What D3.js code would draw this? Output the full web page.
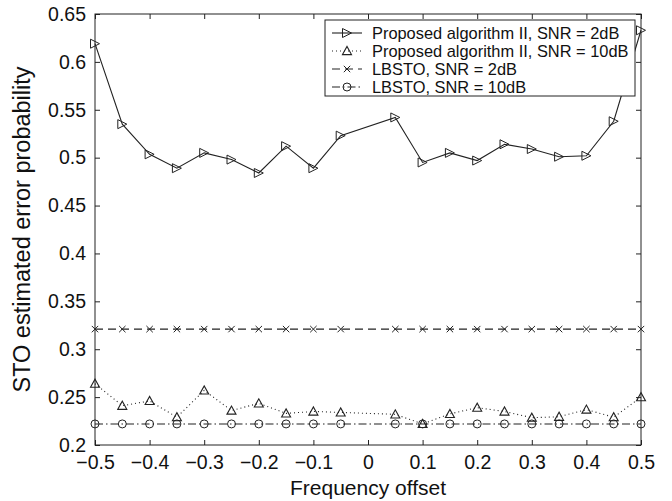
<!DOCTYPE html>
<html><head><meta charset="utf-8">
<script src="https://cdn.jsdelivr.net/npm/d3@7"></script>
<style>
html,body{margin:0;padding:0;background:#fff;}
svg{display:block;font-family:"Liberation Sans",Arial,Helvetica,sans-serif;}
</style></head>
<body>
<svg id="chart" width="672" height="501"></svg>
<script>
const freqOffset = [-0.5,-0.45,-0.4,-0.35,-0.3,-0.25,-0.2,-0.15,-0.1,-0.05,0.05,0.1,0.15,0.2,0.25,0.3,0.35,0.4,0.45,0.5];
const propSnr2  = [0.619,0.535,0.5035,0.489,0.505,0.498,0.484,0.512,0.489,0.523,0.542,0.495,0.505,0.497,0.514,0.509,0.501,0.502,0.538,0.633];
const propSnr10 = [0.264,0.241,0.246,0.229,0.257,0.236,0.2435,0.233,0.235,0.234,0.232,0.222,0.2325,0.239,0.235,0.2285,0.2295,0.237,0.229,0.25];
const lbstoSnr2  = [0.321,0.321,0.321,0.321,0.321,0.321,0.321,0.321,0.321,0.321,0.321,0.321,0.321,0.321,0.321,0.321,0.321,0.321,0.321,0.321];
const lbstoSnr10 = [0.222,0.222,0.222,0.222,0.222,0.222,0.222,0.222,0.222,0.222,0.222,0.222,0.222,0.222,0.222,0.222,0.222,0.222,0.222,0.222];
const xTicks = [-0.5,-0.4,-0.3,-0.2,-0.1,0,0.1,0.2,0.3,0.4,0.5];
const yTicks = [0.2,0.25,0.3,0.35,0.4,0.45,0.5,0.55,0.6,0.65];
const seriesNames = ["Proposed algorithm II, SNR = 2dB","Proposed algorithm II, SNR = 10dB","LBSTO, SNR = 2dB","LBSTO, SNR = 10dB"];

const L = 95, R = 641, T = 14, B = 445;
const svg = d3.select("#chart");
const x = d3.scaleLinear().domain([-0.5,0.5]).range([L,R]);
const y = d3.scaleLinear().domain([0.2,0.65]).range([B,T]);

const fmt = v => (v<0 ? "\u2212" : "") + d3.format("")(Math.abs(+v.toFixed(2)));

// axes with inward ticks on all four sides
const tickLen = 5;
const gx = svg.append("g").attr("transform",`translate(0,${B})`)
  .call(d3.axisBottom(x).tickValues(xTicks).tickSizeInner(-tickLen).tickSizeOuter(0).tickPadding(10).tickFormat(fmt));
const gxt = svg.append("g").attr("transform",`translate(0,${T})`)
  .call(d3.axisTop(x).tickValues(xTicks).tickSizeInner(-tickLen).tickSizeOuter(0).tickFormat(""));
const gy = svg.append("g").attr("transform",`translate(${L},0)`)
  .call(d3.axisLeft(y).tickValues(yTicks).tickSizeInner(-tickLen).tickSizeOuter(0).tickPadding(9).tickFormat(d=>fmt(d)));
const gyr = svg.append("g").attr("transform",`translate(${R},0)`)
  .call(d3.axisRight(y).tickValues(yTicks).tickSizeInner(-tickLen).tickSizeOuter(0).tickFormat(""));
[gx,gxt,gy,gyr].forEach(g=>{
  g.select(".domain").remove();
  g.selectAll("line").attr("stroke","#222").attr("stroke-width",1);
  g.selectAll("text").attr("fill","#111").style("font-size","19.5px").style("font-family","'Liberation Sans',Arial,sans-serif");
});
gx.selectAll("text").attr("dy","0.71em");
svg.append("rect").attr("x",L).attr("y",T).attr("width",R-L).attr("height",B-T)
  .attr("fill","none").attr("stroke","#222").attr("stroke-width",1);

// axis titles
svg.append("text").attr("x",(L+R)/2).attr("y",495).attr("text-anchor","middle")
  .style("font-size","21px").attr("fill","#111").text("Frequency offset");
svg.append("text").attr("transform",`translate(30,${(T+B)/2}) rotate(-90)`).attr("text-anchor","middle")
  .style("font-size","23.5px").attr("fill","#111").text("STO estimated error probability");

// marker painters
function triRight(g,cx,cy){ const s=4.5; g.append("path").attr("d",`M${cx-s},${cy-s}L${cx+s},${cy}L${cx-s},${cy+s}Z`).attr("fill","none").attr("stroke","#222").attr("stroke-width",1);}
function triUp(g,cx,cy){ const s=4.5; g.append("path").attr("d",`M${cx-s},${cy+s*0.8}L${cx},${cy-s}L${cx+s},${cy+s*0.8}Z`).attr("fill","none").attr("stroke","#222").attr("stroke-width",1.1);}
function cross(g,cx,cy){ const s=3.2; g.append("path").attr("d",`M${cx-s},${cy-s}L${cx+s},${cy+s}M${cx-s},${cy+s}L${cx+s},${cy-s}`).attr("stroke","#222").attr("stroke-width",1);}
function circ(g,cx,cy){ g.append("circle").attr("cx",cx).attr("cy",cy).attr("r",4).attr("fill","none").attr("stroke","#222").attr("stroke-width",1);}

const series = [
  {vals:propSnr2, dash:null, mark:triRight},
  {vals:propSnr10, dash:"1,3", mark:triUp},
  {vals:lbstoSnr2, dash:"8,5", mark:cross},
  {vals:lbstoSnr10, dash:"8,3,1.5,3", mark:circ}
];
const line = d3.line().x(d=>x(d[0])).y(d=>y(d[1]));
const plot = svg.append("g");
series.forEach(s=>{
  const pts = freqOffset.map((f,i)=>[f,s.vals[i]]);
  plot.append("path").attr("d",line(pts)).attr("fill","none").attr("stroke","#222")
    .attr("stroke-width",1.1).attr("stroke-dasharray",s.dash);
  const mg = plot.append("g");
  pts.forEach(p=>s.mark(mg,x(p[0]),y(p[1])));
});

// legend
const lg = svg.append("g");
lg.append("rect").attr("x",325).attr("y",20).attr("width",310).attr("height",76)
  .attr("fill","#fff").attr("stroke","#222").attr("stroke-width",1);
series.forEach((s,i)=>{
  const cy = 33 + i*18;
  lg.append("line").attr("x1",332).attr("x2",362).attr("y1",cy).attr("y2",cy)
    .attr("stroke","#222").attr("stroke-width",1.1).attr("stroke-dasharray",s.dash);
  s.mark(lg,347,cy);
  lg.append("text").attr("x",372).attr("y",cy).attr("dy","0.36em").style("font-size","16.4px")
    .attr("fill","#111").text(seriesNames[i]);
});
</script>
</body></html>
